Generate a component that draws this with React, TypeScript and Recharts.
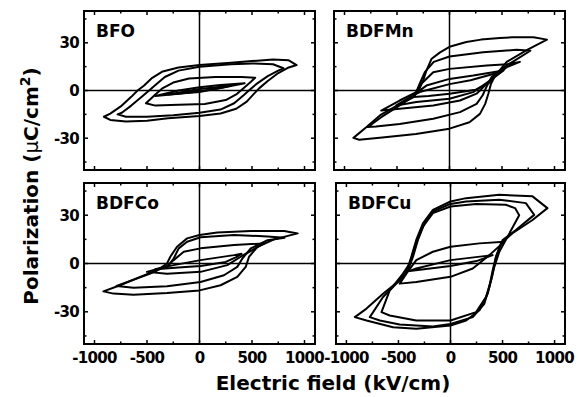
import { LineChart, Line, XAxis, YAxis, ReferenceLine, ReferenceArea } from "recharts";

type Pt = [number, number]; // [E (kV/cm), P (uC/cm2)]

const W = 582;
const H = 397;
const FONT = "'DejaVu Sans', Verdana, sans-serif";

// BFO
const bfo925: Pt[] = [[925, 16], [850, 19], [700, 19.5], [500, 18.5], [300, 17.5], [0, 16], [-200, 14.5], [-350, 12], [-450, 8], [-530, 3], [-590, 0], [-650, -4], [-750, -10], [-850, -14.5], [-910, -16.5], [-850, -18.5], [-700, -19.5], [-500, -19], [-300, -17.5], [0, -16], [200, -14.5], [350, -11.5], [450, -7], [520, -2], [570, 1.5], [650, 6], [750, 11], [850, 14.5]];
const bfo800: Pt[] = [[800, 14], [700, 16.5], [500, 17], [300, 16.5], [0, 15], [-200, 12.5], [-330, 8.5], [-420, 3.5], [-480, 0], [-550, -4], [-650, -9.5], [-740, -14], [-780, -15], [-700, -16.5], [-500, -16.5], [-250, -15.5], [0, -14], [200, -12], [330, -8], [420, -3], [470, 0], [540, 4], [650, 9], [750, 12.5]];
const bfo530: Pt[] = [[530, 8], [400, 8.5], [150, 8.5], [-100, 7.5], [-250, 5], [-350, 1.5], [-420, -2.5], [-510, -8], [-420, -9.5], [-200, -9], [50, -8.5], [250, -6], [350, -2.5], [430, 2], [490, 5.5]];
const bfo430: Pt[] = [[430, 4.5], [200, 3.5], [0, 2], [-200, 0], [-420, -3.5], [-200, -2], [0, -0.5], [200, 1.5]];
const bfo300: Pt[] = [[300, 3], [0, 1], [-300, -2.5], [0, -1], [150, 1]];

// BDFMn
const mn928: Pt[] = [[928, 32], [800, 33.5], [600, 33.5], [480, 33], [300, 32], [160, 30.5], [0, 27.5], [-90, 24], [-170, 20], [-220, 12.5], [-250, 6.5], [-290, 0.5], [-350, -4.5], [-500, -9.5], [-660, -15.5], [-790, -23], [-915, -29.8], [-860, -31], [-640, -29.5], [-320, -27.3], [0, -24], [190, -20], [290, -14.7], [340, -8.4], [370, -2], [395, 4.2], [435, 9.4], [545, 18], [740, 25.5]];
const mn770: Pt[] = [[770, 25], [640, 25.6], [320, 24], [0, 21.4], [-150, 18], [-235, 11.5], [-285, 4.2], [-330, -3], [-500, -10.5], [-650, -16.8], [-780, -23], [-700, -22.6], [-475, -21], [-155, -17.8], [100, -13.6], [258, -8.4], [316, -3], [350, 2], [400, 8.4], [545, 15.7]];
const mn670: Pt[] = [[670, 18], [550, 16.5], [354, 15.7], [0, 13.6], [-155, 11.5], [-268, 4.2], [-316, -1], [-475, -6.3], [-650, -12.6], [-475, -11.5], [-155, -9.4], [100, -6.3], [258, -2], [386, 6.3], [545, 14.7]];
const mn515: Pt[] = [[515, 12.6], [226, 9.4], [0, 7.3], [-220, 3.1], [-348, -3.1], [-507, -9.4], [-316, -7.3], [0, -5.2], [226, -1], [386, 6.3]];
const mn450: Pt[] = [[450, 11], [200, 6.5], [0, 4], [-284, -1], [-380, -4.2], [-200, -3.5], [0, -2], [250, 0.5], [380, 5]];

// BDFCo
const co935: Pt[] = [[935, 18.7], [807, 20.2], [488, 20.2], [169, 19.2], [0, 17.7], [-118, 15.6], [-214, 10.4], [-278, 4.2], [-309, 0], [-405, -4.2], [-565, -8.3], [-756, -13.5], [-915, -17.3], [-820, -18.7], [-628, -19.4], [-309, -18.3], [0, -16.7], [201, -13.5], [360, -8.3], [440, -2.1], [472, 4.2], [552, 10.4], [711, 15]];
const co810: Pt[] = [[810, 16], [648, 16.8], [329, 17.7], [10, 16.3], [-118, 13.5], [-198, 9.4], [-246, 3.1], [-293, -1], [-469, -6.3], [-790, -14], [-628, -15], [-309, -14.2], [10, -11.5], [233, -7.3], [360, -2.1], [408, 3.1], [488, 9.4], [648, 14.5]];
const co616: Pt[] = [[616, 12.5], [329, 11.5], [10, 9.4], [-150, 7.3], [-246, 2.1], [-309, -1.7], [-501, -5.2], [-309, -6.3], [10, -5.2], [265, -1], [392, 4.2]];
const co400: Pt[] = [[400, 6], [329, 5.2], [10, 2.1], [-246, -1], [-420, -3.5], [-200, -2.5], [10, -1.5], [250, 1], [350, 4]];

// BDFCu
const cu931: Pt[] = [[931, 34.4], [788, 41.7], [469, 42.7], [150, 40.6], [0, 38.5], [-169, 33.3], [-265, 25], [-329, 14.6], [-376, 4.2], [-424, -5.2], [-488, -10.4], [-648, -18.8], [-807, -28], [-919, -33.3], [-807, -35.4], [-552, -39.6], [-329, -40.6], [0, -38.5], [150, -35.4], [278, -29], [357, -18.8], [399, -8.3], [437, 4.2], [485, 12.5], [596, 18.8], [788, 27]];
const cu804: Pt[] = [[804, 30.2], [724, 37.5], [469, 39.6], [150, 38.5], [0, 37], [-169, 32.3], [-249, 25], [-313, 14.6], [-360, 4.2], [-408, -4.2], [-488, -10.4], [-648, -20.8], [-775, -33.3], [-679, -35.4], [-488, -37.9], [-169, -39.2], [0, -37.5], [214, -33.3], [325, -25], [373, -14.6], [405, -4.2], [437, 4.2], [501, 14.6], [628, 20.8]];
const cu660: Pt[] = [[660, 30], [620, 34.4], [530, 36.5], [246, 37], [0, 35.4], [-169, 31.3], [-265, 22.9], [-344, 10.4], [-392, 0], [-456, -6.3], [-584, -16.7], [-663, -30.2], [-584, -32.3], [-329, -35.4], [0, -35.4], [246, -30.2], [341, -20.8], [389, -10.4], [421, -2.1], [469, 7.3], [549, 16.7]];
const cu517: Pt[] = [[517, 13.5], [278, 12.5], [0, 10.4], [-169, 7.3], [-329, 2.1], [-424, -6.3], [-488, -12.5], [-329, -11.5], [0, -8.3], [214, -3.1], [373, 5.2]];
const cu405: Pt[] = [[405, 5.2], [0, 2.1], [-329, -3.1], [-392, -4.6], [0, -1.5], [250, 1.5]];

const E_TICKS = [-1000, -750, -500, -250, 0, 250, 500, 750, 1000];
const P_TICKS = [-45, -30, -15, 0, 15, 30, 45];
const E_DOMAIN = [-1100, 1100];
const P_DOMAIN = [-50, 50];

const PANELS = [
  { name: "BFO", loops: [bfo925, bfo800, bfo530, bfo430, bfo300], box: [84, 11, 315, 170], xLabels: false, yLabels: true },
  { name: "BDFMn", loops: [mn928, mn770, mn670, mn515, mn450], box: [334, 11, 565, 170], xLabels: false, yLabels: false },
  { name: "BDFCo", loops: [co935, co810, co616, co400], box: [84, 183, 315, 344], xLabels: true, yLabels: true },
  { name: "BDFCu", loops: [cu931, cu804, cu660, cu517, cu405], box: [336, 183, 565, 344], xLabels: true, yLabels: false },
];

const toRows = (loop: Pt[]) => loop.map(([e, p]) => ({ e, p }));

// ticks point inward; the axis "line" is the frame drawn by ReferenceArea
function makeTick(side: "b" | "t" | "l" | "r", show: boolean) {
  return (props: any) => {
    const { x, y, payload } = props;
    const v = payload.value;
    const major = side === "b" || side === "t" ? v % 500 === 0 : v % 30 === 0;
    const len = major ? 4 : 2.5;
    const txt = { fontFamily: FONT, fontWeight: "bold", fontSize: 15, letterSpacing: -0.7, fill: "#000" } as any;
    if (side === "b")
      return (
        <g>
          <line x1={x} y1={y} x2={x} y2={y - len} stroke="#000" strokeWidth={1.5} />
          {show && major && <text x={x} y={y + 19} textAnchor="middle" {...txt}>{v}</text>}
        </g>
      );
    if (side === "t") return <line x1={x} y1={y} x2={x} y2={y + len} stroke="#000" strokeWidth={1.5} />;
    if (side === "r") return <line x1={x} y1={y} x2={x - len} y2={y} stroke="#000" strokeWidth={1.5} />;
    return (
      <g>
        <line x1={x} y1={y} x2={x + len} y2={y} stroke="#000" strokeWidth={1.5} />
        {show && major && <text x={x - 5} y={y + 5.5} textAnchor="end" {...txt}>{v}</text>}
      </g>
    );
  };
}

function Panel({ panel }: { panel: (typeof PANELS)[number] }) {
  const [l, t, r, b] = panel.box;
  const axisCommon = { type: "number" as const, allowDataOverflow: true, interval: 0 as const, axisLine: false, tickLine: false, tickSize: 0, tickMargin: 0 };
  // axes are 1px thick (a 0px axis is not drawn), so margins are 1px smaller
  return (
    <div style={{ position: "absolute", left: 0, top: 0 }}>
      <LineChart width={W} height={H} margin={{ left: l - 1, top: t - 1, right: W - r - 1, bottom: H - b - 1 }}>
        <XAxis xAxisId="b" dataKey="e" domain={E_DOMAIN} ticks={E_TICKS} height={1} tick={makeTick("b", panel.xLabels)} {...axisCommon} />
        <XAxis xAxisId="t" orientation="top" dataKey="e" domain={E_DOMAIN} ticks={E_TICKS} height={1} tick={makeTick("t", false)} {...axisCommon} />
        <YAxis yAxisId="l" dataKey="p" domain={P_DOMAIN} ticks={P_TICKS} width={1} tick={makeTick("l", panel.yLabels)} {...axisCommon} />
        <YAxis yAxisId="r" orientation="right" dataKey="p" domain={P_DOMAIN} ticks={P_TICKS} width={1} tick={makeTick("r", false)} {...axisCommon} />
        <ReferenceArea xAxisId="b" yAxisId="l" x1={E_DOMAIN[0]} x2={E_DOMAIN[1]} y1={P_DOMAIN[0]} y2={P_DOMAIN[1]} fill="none" fillOpacity={0} stroke="#000" strokeWidth={2} strokeOpacity={1} ifOverflow="visible" />
        <ReferenceLine xAxisId="b" yAxisId="l" x={0} stroke="#000" strokeWidth={1.5} />
        <ReferenceLine xAxisId="b" yAxisId="l" y={0} stroke="#000" strokeWidth={1.5} />
        {panel.loops.map((loop, i) => (
          <Line
            key={i}
            xAxisId="b"
            yAxisId="l"
            data={toRows(loop)}
            dataKey="p"
            type="linearClosed"
            stroke="#000"
            strokeWidth={2}
            strokeLinejoin="round"
            dot={false}
            activeDot={false}
            isAnimationActive={false}
          />
        ))}
      </LineChart>
    </div>
  );
}

export default function App() {
  return (
    <div style={{ position: "absolute", left: 0, top: 0, width: W, height: H, background: "#fff", overflow: "hidden" }}>
      {PANELS.map((p) => (
        <Panel key={p.name} panel={p} />
      ))}
      <svg width={W} height={H} style={{ position: "absolute", left: 0, top: 0, pointerEvents: "none" }}>
        {PANELS.map((p) => (
          <text key={p.name} x={p.box[0] + 12} y={p.box[1] + 26} fontFamily={FONT} fontWeight="bold" fontSize={17}>
            {p.name}
          </text>
        ))}
        <text x={333} y={390} textAnchor="middle" fontFamily={FONT} fontWeight="bold" fontSize={20}>
          Electric field (kV/cm)
        </text>
        <text transform="translate(38,186) rotate(-90)" textAnchor="middle" fontFamily={FONT} fontWeight="bold" fontSize={20}>
          Polarization (<tspan fontWeight="normal">μ</tspan>C/cm<tspan dy={-8} fontSize={14}>2</tspan><tspan dy={8}>)</tspan>
        </text>
      </svg>
    </div>
  );
}
